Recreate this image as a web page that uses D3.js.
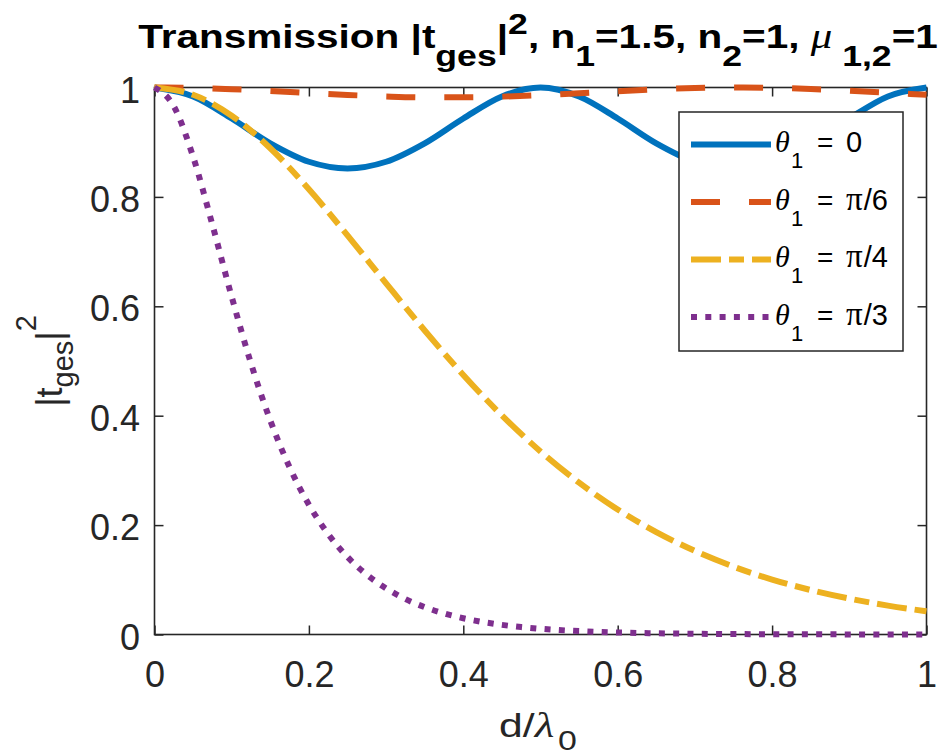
<!DOCTYPE html>
<html>
<head>
<meta charset="utf-8">
<script src="https://cdn.jsdelivr.net/npm/d3@7"></script>
<style>
  html, body { margin: 0; padding: 0; background: #ffffff; }
  svg { display: block; font-family: "Liberation Sans", Arial, Helvetica, sans-serif; }
</style>
</head>
<body>
<svg id="chart" width="940" height="755"></svg>
<script>
// ---- data ----
const dGrid = [0, 0.05, 0.1, 0.15, 0.2, 0.25, 0.3, 0.35, 0.4, 0.45, 0.5,
               0.55, 0.6, 0.65, 0.7, 0.75, 0.8, 0.85, 0.9, 0.95, 1];
const theta0 = [1, 0.9837, 0.9434, 0.8980, 0.8643, 0.8521, 0.8643, 0.8980, 0.9434, 0.9837, 1,
                0.9837, 0.9434, 0.8980, 0.8643, 0.8521, 0.8643, 0.8980, 0.9434, 0.9837, 1];
const thetaPi6 = [1, 0.9992, 0.9970, 0.9937, 0.9900, 0.9864, 0.9836, 0.9820, 0.9820, 0.9833, 0.9860,
                  0.9895, 0.9933, 0.9966, 0.9990, 1.0000, 0.9994, 0.9973, 0.9941, 0.9904, 0.9868];
const thetaPi4 = [1, 0.9867, 0.9484, 0.8889, 0.8139, 0.7296, 0.6420, 0.5558, 0.4746, 0.4005, 0.3347,
                  0.2775, 0.2285, 0.1872, 0.1527, 0.1241, 0.1005, 0.0813, 0.0656, 0.0528, 0.0425];
const dFine = [0, 0.025, 0.05, 0.075, 0.1, 0.125, 0.15, 0.175, 0.2, 0.225, 0.25, 0.275, 0.3, 0.325,
               0.35, 0.375, 0.4, 0.425, 0.45, 0.475, 0.5, 0.55, 0.6, 0.65, 0.7, 0.75, 0.8, 0.85, 0.9, 0.95, 1];
const thetaPi3 = [1, 0.9656, 0.8735, 0.7490, 0.6174, 0.4956, 0.3912, 0.3056, 0.2373, 0.1836, 0.1417,
                  0.1093, 0.0843, 0.0649, 0.0500, 0.0386, 0.0297, 0.0229, 0.0176, 0.0136, 0.0105,
                  0.0062, 0.0037, 0.0022, 0.0013, 0.0008, 0.0005, 0.0003, 0.0002, 0.0001, 0.0001];
const seriesLabels = ["0", "π/6", "π/4", "π/3"];
const xTicks = [0, 0.2, 0.4, 0.6, 0.8, 1];
const yTicks = [0, 0.2, 0.4, 0.6, 0.8, 1];

// ---- layout ----
const svg = d3.select("#chart");
const L = 154.5, R = 926.5, T = 87.5, B = 634.5;
const x = d3.scaleLinear().domain([0, 1]).range([L, R]);
const y = d3.scaleLinear().domain([0, 1]).range([B, T]);
const axisColor = "#262626";
const tickFont = 36;

const series = [
  { d: dGrid, v: theta0,   color: "#0072BD", dash: null },
  { d: dGrid, v: thetaPi6, color: "#D95319", dash: "29,29" },
  { d: dGrid, v: thetaPi4, color: "#EDB120", dash: "30,8,15,8" },
  { d: dFine, v: thetaPi3, color: "#7E2F8E", dash: "6,8.3" }
];

// axes (ticks inward, box)
const gx = svg.append("g").attr("transform", `translate(0,${B})`)
  .call(d3.axisBottom(x).tickValues(xTicks).tickSizeInner(-9).tickSizeOuter(0).tickFormat(d => String(d)));
const gxt = svg.append("g").attr("transform", `translate(0,${T})`)
  .call(d3.axisTop(x).tickValues(xTicks).tickSizeInner(-9).tickSizeOuter(0).tickFormat(""));
const gy = svg.append("g").attr("transform", `translate(${L},0)`)
  .call(d3.axisLeft(y).tickValues(yTicks).tickSizeInner(-9).tickSizeOuter(0).tickFormat(d => String(d)));
const gyr = svg.append("g").attr("transform", `translate(${R},0)`)
  .call(d3.axisRight(y).tickValues(yTicks).tickSizeInner(-9).tickSizeOuter(0).tickFormat(""));

[gx, gxt, gy, gyr].forEach(g => {
  g.select(".domain").remove();
  g.selectAll(".tick line").attr("stroke", axisColor).attr("stroke-width", 1.5);
});
gx.selectAll(".tick text").attr("y", 52).attr("dy", null)
  .attr("font-size", tickFont).attr("fill", axisColor).attr("font-family", "Liberation Sans, Arial, sans-serif");
gy.selectAll(".tick text").attr("x", -14.5).attr("dy", 14.5)
  .attr("font-size", tickFont).attr("fill", axisColor).attr("font-family", "Liberation Sans, Arial, sans-serif");

svg.append("rect").attr("x", L).attr("y", T).attr("width", R - L).attr("height", B - T)
  .attr("fill", "none").attr("stroke", axisColor).attr("stroke-width", 1.6);

// lines
const line = d3.line().curve(d3.curveMonotoneX);
series.forEach(s => {
  const pts = s.d.map((d, i) => [x(d), y(s.v[i])]);
  svg.append("path").attr("d", line(pts))
    .attr("fill", "none").attr("stroke", s.color).attr("stroke-width", 6)
    .attr("stroke-dasharray", s.dash).attr("stroke-linejoin", "round");
});

// legend
const lg = svg.append("g");
lg.append("rect").attr("x", 679).attr("y", 112).attr("width", 224).attr("height", 239)
  .attr("fill", "#ffffff").attr("stroke", axisColor).attr("stroke-width", 1.5);
series.forEach((s, i) => {
  const cy = 144.5 + i * 57.5;
  lg.append("line").attr("x1", 691).attr("x2", 771).attr("y1", cy).attr("y2", cy)
    .attr("stroke", s.color).attr("stroke-width", 6).attr("stroke-dasharray", s.dash);
  const base = cy + 7.5;
  lg.append("text").attr("x", 775).attr("y", base)
    .attr("font-family", "Liberation Serif, Times New Roman, serif").attr("font-style", "italic")
    .attr("font-size", 30).attr("fill", "#000").text("θ");
  lg.append("text").attr("x", 791).attr("y", base + 16)
    .attr("font-size", 22).attr("fill", "#000").text("1");
  lg.append("text").attr("x", 817).attr("y", base)
    .attr("font-size", 28).attr("fill", "#000").text("=");
  const lab = seriesLabels[i];
  const t = lg.append("text").attr("x", 846).attr("y", base).attr("font-size", 29).attr("fill", "#000");
  if (lab.startsWith("π")) {
    t.append("tspan").attr("font-family", "Liberation Serif, Times New Roman, serif").attr("font-size", 33).text("π");
    t.append("tspan").attr("dx", 1).text(lab.slice(1));
  } else {
    t.text(lab);
  }
});

// stretch a text element horizontally around its centre to a target width
function fitWidth(sel, cx, target) {
  const w = sel.node().getComputedTextLength();
  const s = target / w;
  sel.attr("transform", `translate(${cx},0) scale(${s.toFixed(4)},1) translate(${-cx},0)`);
}

// title
const title = svg.append("text").attr("x", 538).attr("y", 48).attr("text-anchor", "middle")
  .attr("font-size", 33).attr("font-weight", "bold").attr("fill", "#000");
const subT = 29, subDy = 18, supDy = -14;
title.append("tspan").text("Transmission |t");
title.append("tspan").attr("font-size", subT).attr("dy", subDy).text("ges");
title.append("tspan").attr("dy", -subDy).text("|");
title.append("tspan").attr("font-size", subT).attr("dy", supDy).text("2");
title.append("tspan").attr("dy", -supDy).text(", n");
title.append("tspan").attr("font-size", subT).attr("dy", subDy).text("1");
title.append("tspan").attr("dy", -subDy).text("=1.5, n");
title.append("tspan").attr("font-size", subT).attr("dy", subDy).text("2");
title.append("tspan").attr("dy", -subDy).text("=1, ");
title.append("tspan").attr("font-family", "Liberation Serif, Times New Roman, serif")
  .attr("font-style", "italic").attr("font-weight", "normal").attr("font-size", 35).text("μ");
title.append("tspan").attr("font-size", subT).attr("dy", subDy).text(" 1,2");
title.append("tspan").attr("dy", -subDy).text("=1");
fitWidth(title, 538, 800);

// x label
const xl = svg.append("text").attr("x", 538).attr("y", 737).attr("text-anchor", "middle")
  .attr("font-size", 34).attr("fill", axisColor);
xl.append("tspan").text("d/");
xl.append("tspan").attr("font-family", "Liberation Serif, Times New Roman, serif").attr("font-style", "italic").attr("font-size", 36).text("λ");
xl.append("tspan").attr("font-size", 27).attr("dy", 13).attr("dx", 3).text("0");
fitWidth(xl, 538, 74);

// y label
const yl = svg.append("text").attr("transform", `translate(62,361) rotate(-90)`).attr("text-anchor", "middle")
  .attr("font-size", 36).attr("fill", axisColor);
yl.append("tspan").text("|t");
yl.append("tspan").attr("font-size", 29).attr("dy", 11).text("ges");
yl.append("tspan").attr("dy", -11).text("|");
yl.append("tspan").attr("font-size", 29).attr("dy", -26).text("2");
</script>
</body>
</html>
